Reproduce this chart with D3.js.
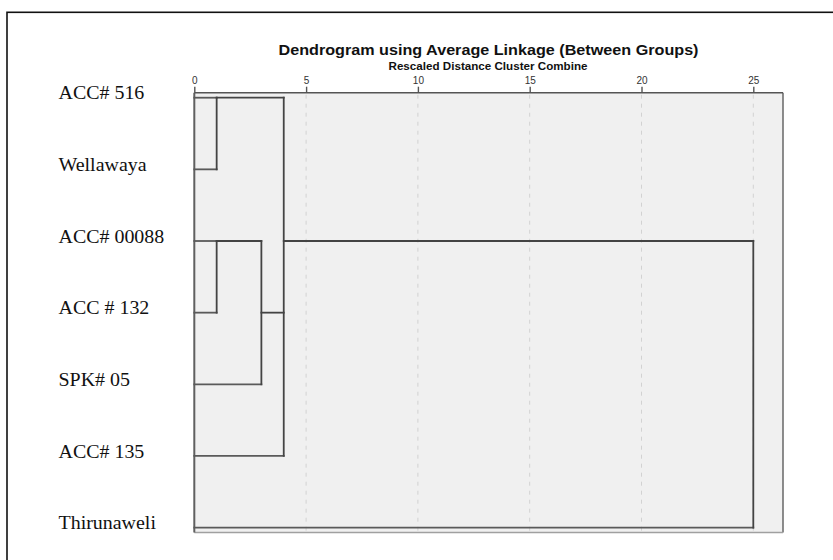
<!DOCTYPE html>
<html><head><meta charset="utf-8">
<script src="https://cdn.jsdelivr.net/npm/d3@7"></script>
<style>html,body{margin:0;padding:0;background:#fff;}svg{display:block;}</style>
</head><body>
<svg id="c" width="833" height="560"></svg>
<script>
// ---- data ----
const labels = ["ACC# 516","Wellawaya","ACC# 00088","ACC # 132","SPK# 05","ACC# 135","Thirunaweli"];
// merges: children node ids (leaves 0..6, merges 7..), and rescaled distance
const mergeChildren = [[0,1],[2,3],[8,4],[7,9,5],[10,6]];
const mergeDistance = [1,1,3,4,25];
const tickValues = [0,5,10,15,20,25];
const title = "Dendrogram using Average Linkage (Between Groups)";
const subtitle = "Rescaled Distance Cluster Combine";

// ---- layout ----
const svg = d3.select("#c");
const plotL = 194.3, plotR = 783, plotT = 92.7, plotB = 532.5;
const x = d3.scaleLinear().domain([0,25]).range([194.3, 753.3]);
const y = d3.scaleLinear().domain([0,6]).range([97.7, 527.6]);

// outer frame
svg.append("rect").attr("x",7).attr("y",12.3).attr("width",900).attr("height",700)
  .attr("fill","none").attr("stroke","#111").attr("stroke-width",1.6);

// plot background
svg.append("rect").attr("x",plotL).attr("y",plotT).attr("width",plotR-plotL).attr("height",plotB-plotT)
  .attr("fill","#f0f0f0").attr("stroke","none");

// grid lines
svg.append("g").selectAll("line").data(tickValues.filter(d=>d>0)).join("line")
  .attr("x1",d=>x(d)).attr("x2",d=>x(d)).attr("y1",plotT+2).attr("y2",plotB)
  .attr("stroke","#d2d2d2").attr("stroke-width",1).attr("stroke-dasharray","4,5");

// plot borders
svg.append("line").attr("x1",plotR).attr("x2",plotR).attr("y1",plotT).attr("y2",plotB)
  .attr("stroke","#707070").attr("stroke-width",1.6);
svg.append("line").attr("x1",plotL).attr("x2",plotR).attr("y1",plotB).attr("y2",plotB)
  .attr("stroke","#a0a0a0").attr("stroke-width",1.6);
svg.append("line").attr("x1",plotL).attr("x2",plotL).attr("y1",plotT).attr("y2",plotB)
  .attr("stroke","#606060").attr("stroke-width",2);

// top axis
const axis = d3.axisTop(x).tickValues(tickValues).tickSize(6).tickPadding(3).tickSizeOuter(0);
const ag = svg.append("g").attr("transform",`translate(0,${plotT})`).call(axis);
ag.select(".domain").attr("d",`M${plotL},0H${plotR}`).attr("stroke","#555").attr("stroke-width",1.4);
ag.selectAll(".tick line").attr("stroke","#555").attr("stroke-width",1.4);
ag.selectAll(".tick text").attr("font-family","Liberation Sans, Arial, sans-serif")
  .attr("font-size","10px").attr("fill","#333");

// titles
svg.append("text").attr("x",278.5).attr("y",55)
  .attr("font-family","Liberation Sans, Arial, sans-serif").attr("font-weight","bold")
  .attr("font-size","15px").attr("fill","#111")
  .attr("textLength",420).attr("lengthAdjust","spacingAndGlyphs").text(title);
svg.append("text").attr("x",388.5).attr("y",69.5)
  .attr("font-family","Liberation Sans, Arial, sans-serif").attr("font-weight","bold")
  .attr("font-size","10px").attr("fill","#111")
  .attr("textLength",199).attr("lengthAdjust","spacingAndGlyphs").text(subtitle);

// labels
svg.append("g").selectAll("text").data(labels).join("text")
  .attr("x",58.5).attr("y",(d,i)=>y(i)+1.8)
  .attr("font-family","Liberation Serif, Times New Roman, serif")
  .attr("font-size","19px").attr("fill","#111")
  .attr("transform",`translate(58.5,0) scale(1.05,1) translate(-58.5,0)`)
  .text(d=>d);

// build dendrogram geometry
const n = labels.length;
const nodeRow = labels.map((d,i)=>i);
const nodeDist = labels.map(()=>0);
const segs = [];
mergeChildren.forEach((ch,k)=>{
  const id = n+k, dist = mergeDistance[k];
  const rows = ch.map(c=>nodeRow[c]);
  const rMin = d3.min(rows), rMax = d3.max(rows);
  ch.forEach(c=>segs.push({x1:nodeDist[c],x2:dist,r1:nodeRow[c],r2:nodeRow[c],leaf:c<n}));
  segs.push({x1:dist,x2:dist,r1:rMin,r2:rMax,leaf:false});
  nodeRow[id] = Math.floor((rMin+rMax)/2);
  nodeDist[id] = dist;
});

svg.append("g").selectAll("line").data(segs).join("line")
  .attr("x1",d=>x(d.x1)).attr("x2",d=>x(d.x2))
  .attr("y1",d=>y(d.r1)).attr("y2",d=>y(d.r2))
  .attr("stroke",d=>d.leaf?"#5a5a5a":"#444")
  .attr("stroke-width",1.8).attr("stroke-linecap","square");
</script>
</body></html>
